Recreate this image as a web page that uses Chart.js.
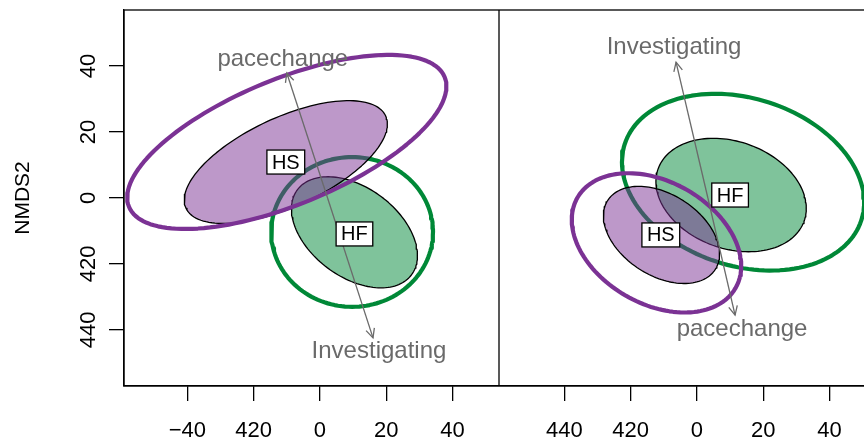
<!DOCTYPE html>
<html>
<head>
<meta charset="utf-8">
<script src="https://cdn.jsdelivr.net/npm/chart.js@4.4.1/dist/chart.umd.min.js"></script>
<style>
  html, body { margin: 0; padding: 0; background: #fff; overflow: hidden; width: 864px; height: 441px; }
  #left { position: absolute; left: 0; top: 0; }
  #right { position: absolute; left: 499px; top: 0; }
</style>
</head>
<body>
<canvas id="left" width="499" height="441"></canvas>
<canvas id="right" width="374" height="441"></canvas>
<script>
// tick values and the labels as printed in the figure
const tickValues = [-40, -20, 0, 20, 40];
const leftXTickLabels = ['\u221240', '420', '0', '20', '40'];
const rightXTickLabels = ['440', '420', '0', '20', '40'];
const yTickLabels = ['440', '420', '0', '20', '40'];

// ellipses: [centerX, centerY, semiMajor, semiMinor, angleDeg]
const leftHSOuter = [-10.0, 17.0, 51.5, 19.0, 22.5];
const leftHSInner = [-10.3, 10.9, 33.2, 13.5, 25];
const leftHFOuter = [9.7, -10.3, 24.4, 22.7, 0];
const leftHFInner = [10.4, -10.4, 21.5, 13.5, -37];
const rightHSOuter = [-12.2, -13.6, 27.5, 18.5, -30];
const rightHSInner = [-10.7, -11.2, 19.3, 12.3, -33];
const rightHFOuter = [13.9, 4.8, 37.5, 25.4, -18];
const rightHFInner = [10.3, 0.9, 23.4, 16.2, -20];

// group labels (centroids)
const groupNames = ['HS', 'HF'];
const leftGroupPos = [[-10.3, 10.9], [10.4, -10.9]];
const rightGroupPos = [[-10.9, -11.2], [10.0, 0.9]];

// fitted vectors: shared tail, heads, and label anchors
const vectorNames = ['pacechange', 'Investigating'];
const leftArrowTail = [2.3, 0];
const leftArrowHeads = [[-10.0, 37.9], [16.0, -42.4]];
const leftVectorLabelPos = [[-11.2, 40.0], [17.8, -48.5]];
const rightArrowTail = [3.3, 0];
const rightArrowHeads = [[11.5, -35.5], [-6.3, 41.2]];
const rightVectorLabelPos = [[13.6, -41.8], [-6.9, 43.6]];

const PURPLE = '#7b3294';
const GREEN = '#008837';
const FONT = 'Liberation Sans';

function ellipsePoints(e) {
    const [cx, cy, a, b, deg] = e;
    const t = deg * Math.PI / 180;
    const pts = [];
    for (let i = 0; i <= 146; i++) {
        const s = i / 144 * 2 * Math.PI;
        pts.push({
            x: cx + a * Math.cos(s) * Math.cos(t) - b * Math.sin(s) * Math.sin(t),
            y: cy + a * Math.cos(s) * Math.sin(t) + b * Math.sin(s) * Math.cos(t)
        });
    }
    return pts;
}

function ellipseSets(hsOuter, hsInner, hfOuter, hfInner, tail, heads) {
    const ring = (e, color, order) => ({
        data: ellipsePoints(e), showLine: true, pointRadius: 0, fill: false,
        borderColor: color, borderWidth: 4.2, borderCapStyle: 'round', borderJoinStyle: 'round', order: order
    });
    const blob = (e, color, order) => ({
        data: ellipsePoints(e), showLine: true, pointRadius: 0, fill: 'shape',
        backgroundColor: color, borderColor: '#000', borderWidth: 1.3, borderJoinStyle: 'round', order: order
    });
    return [
        ring(hfOuter, GREEN, 6),
        blob(hfInner, 'rgba(0,136,55,0.5)', 5),
        blob(hsInner, 'rgba(123,50,148,0.5)', 4),
        ring(hsOuter, PURPLE, 3),
        ...heads.map(h => ({
            data: [{ x: tail[0], y: tail[1] }, { x: h[0], y: h[1] }],
            showLine: true, pointRadius: 0, fill: false,
            borderColor: '#6a6a6a', borderWidth: 1.3, order: 1
        }))
    ];
}

// frame, arrow heads, vector names and group boxes
function overlayPlugin(tail, heads, vecPos, groupPos) {
    return {
        id: 'overlay',
        afterDatasetsDraw(chart) {
            const { ctx, chartArea: ca, scales: { x, y } } = chart;
            ctx.save();
            ctx.beginPath();
            ctx.rect(ca.left, ca.top, ca.right - ca.left, ca.bottom - ca.top);
            ctx.clip();
            // arrow heads
            ctx.strokeStyle = '#6a6a6a';
            ctx.lineWidth = 1.3;
            const tx = x.getPixelForValue(tail[0]), ty = y.getPixelForValue(tail[1]);
            heads.forEach(h => {
                const hx = x.getPixelForValue(h[0]), hy = y.getPixelForValue(h[1]);
                const ang = Math.atan2(hy - ty, hx - tx);
                ctx.beginPath();
                ctx.moveTo(hx - 10 * Math.cos(ang - 0.45), hy - 10 * Math.sin(ang - 0.45));
                ctx.lineTo(hx, hy);
                ctx.lineTo(hx - 10 * Math.cos(ang + 0.45), hy - 10 * Math.sin(ang + 0.45));
                ctx.stroke();
            });
            // vector names
            ctx.fillStyle = '#6a6a6a';
            ctx.font = '24px "' + FONT + '"';
            ctx.textAlign = 'center';
            ctx.textBaseline = 'alphabetic';
            vectorNames.forEach((n, i) => {
                ctx.fillText(n, x.getPixelForValue(vecPos[i][0]), y.getPixelForValue(vecPos[i][1]));
            });
            // group label boxes
            ctx.font = '20px "' + FONT + '"';
            ctx.textBaseline = 'middle';
            groupNames.forEach((n, i) => {
                const px = x.getPixelForValue(groupPos[i][0]), py = y.getPixelForValue(groupPos[i][1]);
                const w = ctx.measureText(n).width + 10, h = 24;
                ctx.fillStyle = '#fff';
                ctx.fillRect(px - w / 2, py - h / 2, w, h);
                ctx.strokeStyle = '#000';
                ctx.lineWidth = 1.3;
                ctx.strokeRect(px - w / 2, py - h / 2, w, h);
                ctx.fillStyle = '#000';
                ctx.fillText(n, px, py + 1);
            });
            ctx.restore();
            // frame
            ctx.save();
            ctx.strokeStyle = '#000';
            ctx.lineWidth = 1.3;
            ctx.strokeRect(ca.left, ca.top, ca.right - ca.left, ca.bottom - ca.top);
            ctx.restore();
        }
    };
}

function xAxis(min, max, labels) {
    return {
        type: 'linear', min: min, max: max,
        afterBuildTicks: s => { s.ticks = tickValues.map(v => ({ value: v })); },
        afterFit: s => { s.height = 55; s.paddingLeft = 0; s.paddingRight = 0; },
        grid: { drawOnChartArea: false, drawTicks: true, tickLength: 15, color: '#000', lineWidth: 1.3 },
        border: { display: true, color: '#000', width: 1.3 },
        ticks: {
            color: '#000', padding: 17, maxRotation: 0, autoSkip: false,
            font: { family: FONT, size: 22 },
            callback: v => labels[tickValues.indexOf(v)]
        }
    };
}

const baseOptions = {
    responsive: false,
    animation: false,
    devicePixelRatio: 1,
    layout: { autoPadding: false, padding: { top: 10, left: 0, right: 0, bottom: 0 } },
    plugins: { legend: { display: false }, tooltip: { enabled: false } }
};

new Chart(document.getElementById('left'), {
    type: 'scatter',
    data: { datasets: ellipseSets(leftHSOuter, leftHSInner, leftHFOuter, leftHFInner, leftArrowTail, leftArrowHeads) },
    options: {
        ...baseOptions,
        scales: {
            x: xAxis(-59.1, 54.0, leftXTickLabels),
            y: {
                type: 'linear', min: -57, max: 57,
                afterBuildTicks: s => { s.ticks = tickValues.map(v => ({ value: v })); },
                afterFit: s => { s.width = 124; s.paddingTop = 0; s.paddingBottom = 0; },
                grid: { drawOnChartArea: false, drawTicks: true, tickLength: 15, color: '#000', lineWidth: 1.3 },
                border: { display: true, color: '#000', width: 1.3 },
                title: { display: true, text: 'NMDS2', color: '#000', font: { family: FONT, size: 21 }, padding: { top: 11, bottom: 0 } },
                ticks: {
                    color: '#000', padding: 2, minRotation: 90, maxRotation: 90, crossAlign: 'center',
                    font: { family: FONT, size: 22 },
                    callback: v => yTickLabels[tickValues.indexOf(v)]
                }
            }
        }
    },
    plugins: [overlayPlugin(leftArrowTail, leftArrowHeads, leftVectorLabelPos, leftGroupPos)]
});

new Chart(document.getElementById('right'), {
    type: 'scatter',
    data: { datasets: ellipseSets(rightHSOuter, rightHSInner, rightHFOuter, rightHFInner, rightArrowTail, rightArrowHeads) },
    options: {
        ...baseOptions,
        scales: {
            x: xAxis(-59.7, 53.1, rightXTickLabels),
            y: { type: 'linear', display: false, min: -57, max: 57 }
        }
    },
    plugins: [overlayPlugin(rightArrowTail, rightArrowHeads, rightVectorLabelPos, rightGroupPos)]
});
</script>
</body>
</html>
